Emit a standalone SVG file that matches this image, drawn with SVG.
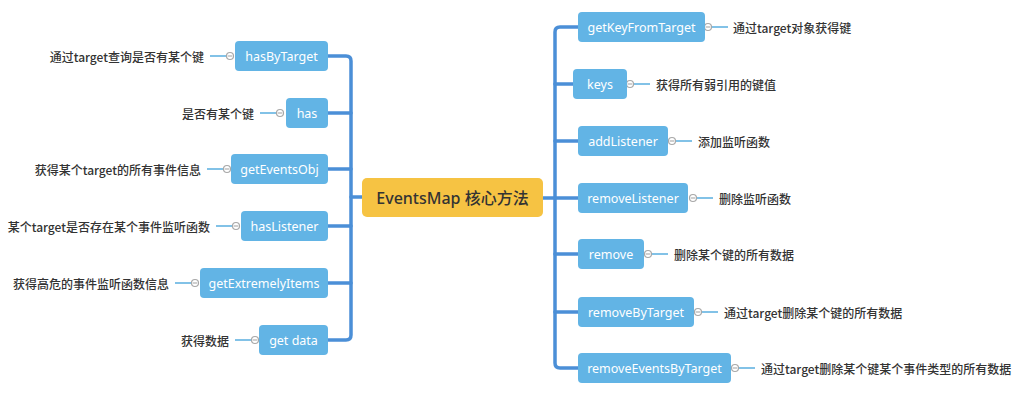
<svg xmlns="http://www.w3.org/2000/svg" width="1029" height="414" viewBox="0 0 1029 414">
<style>
.trunk{fill:none;stroke:#4b8fd7;stroke-width:3.5;stroke-linecap:round;stroke-linejoin:round}
.leafline{fill:none;stroke:#5aaee0;stroke-width:1.3}
.knob{fill:#fff;stroke:#a8a8a8;stroke-width:1.2}
.minus{stroke:#a8a8a8;stroke-width:1.1}
.node rect{fill:#62b4e5}
.node text{fill:#fff;font-family:"Noto Sans","Open Sans","Noto Sans CJK SC",sans-serif;font-size:12.5px;text-anchor:middle;dominant-baseline:central}
.label{fill:#333;font-family:"Noto Sans CJK SC","Noto Sans",sans-serif;font-size:12px;font-weight:500;dominant-baseline:central}
.l{text-anchor:end}
.r{text-anchor:start}
</style>
<defs>
<g id="knob"><circle class="knob" r="3.5"/><path class="minus" d="M-2.2,0 H2.2"/></g>
</defs>
<rect width="1029" height="414" fill="#fff"/>
<g id="connectors">
<path class="trunk" d="M328,56 H346 Q351,56 351,61 V335 Q351,340 346,340 H328"/>
<path class="trunk" d="M351,113 H328 M351,169 H328 M351,226 H328 M351,283 H328 M351,197 H362"/>
<path class="trunk" d="M578,27 H560 Q555,27 555,32 V363 Q555,368 560,368 H578"/>
<path class="trunk" d="M555,84 H573 M555,141 H578 M543,198 H578 M555,254 H578 M555,312 H578"/>
<path class="leafline" d="M210,56 H226.5 M260,113 H276.5 M207,169 H223.5 M216,226 H232.5 M175,283 H191.5 M235,340 H251.5"/>
<path class="leafline" d="M711.5,27 H728 M633.5,84 H650 M675.5,141 H692 M696.5,198 H713 M651.5,254 H668 M701.5,312 H718 M738.5,368 H755"/>
<g>
<use href="#knob" x="230" y="56"/><use href="#knob" x="280" y="113"/><use href="#knob" x="227" y="169"/><use href="#knob" x="236" y="226"/><use href="#knob" x="195" y="283"/><use href="#knob" x="255" y="340"/>
<use href="#knob" x="708" y="27"/><use href="#knob" x="630" y="84"/><use href="#knob" x="672" y="141"/><use href="#knob" x="693" y="198"/><use href="#knob" x="648" y="254"/><use href="#knob" x="698" y="312"/><use href="#knob" x="735" y="368"/>
</g>
</g>
<g id="center">
<rect x="362" y="178" width="181" height="39" rx="5" fill="#f6c343"/>
<text x="452.5" y="197.5" fill="#333" font-family="Noto Sans, Noto Sans CJK SC, sans-serif" font-size="16" font-weight="500" text-anchor="middle" dominant-baseline="central">EventsMap 核心方法</text>
</g>
<g id="hasByTarget" class="node"><rect x="235" y="41" width="93" height="30" rx="4"/><text x="281.5" y="56">hasByTarget</text></g>
<g id="has" class="node"><rect x="286" y="98" width="42" height="30" rx="4"/><text x="307" y="113">has</text></g>
<g id="getEventsObj" class="node"><rect x="231" y="154" width="97" height="30" rx="4"/><text x="279.5" y="169">getEventsObj</text></g>
<g id="hasListener" class="node"><rect x="241" y="211" width="87" height="30" rx="4"/><text x="284.5" y="226">hasListener</text></g>
<g id="getExtremelyItems" class="node"><rect x="200" y="268" width="128" height="30" rx="4"/><text x="264" y="283">getExtremelyItems</text></g>
<g id="getData" class="node"><rect x="259" y="325" width="69" height="30" rx="4"/><text x="293.5" y="340">get data</text></g>
<g id="getKeyFromTarget" class="node"><rect x="578" y="12" width="127" height="30" rx="4"/><text x="641.5" y="27">getKeyFromTarget</text></g>
<g id="keys" class="node"><rect x="573" y="69" width="54" height="30" rx="4"/><text x="600" y="84">keys</text></g>
<g id="addListener" class="node"><rect x="578" y="126" width="90" height="30" rx="4"/><text x="623" y="141">addListener</text></g>
<g id="removeListener" class="node"><rect x="578" y="183" width="110" height="30" rx="4"/><text x="633" y="198">removeListener</text></g>
<g id="remove" class="node"><rect x="578" y="239" width="66" height="30" rx="4"/><text x="611" y="254">remove</text></g>
<g id="removeByTarget" class="node"><rect x="578" y="297" width="116" height="30" rx="4"/><text x="636" y="312">removeByTarget</text></g>
<g id="removeEventsByTarget" class="node"><rect x="578" y="353" width="153" height="30" rx="4"/><text x="654.5" y="368">removeEventsByTarget</text></g>
<g id="labels">
<text class="label l" x="204" y="56">通过target查询是否有某个键</text>
<text class="label l" x="254" y="113">是否有某个键</text>
<text class="label l" x="201" y="169">获得某个target的所有事件信息</text>
<text class="label l" x="210" y="226">某个target是否存在某个事件监听函数</text>
<text class="label l" x="169" y="283">获得高危的事件监听函数信息</text>
<text class="label l" x="229" y="340">获得数据</text>
<text class="label r" x="733" y="27">通过target对象获得键</text>
<text class="label r" x="656" y="84">获得所有弱引用的键值</text>
<text class="label r" x="698" y="141">添加监听函数</text>
<text class="label r" x="719" y="198">删除监听函数</text>
<text class="label r" x="674" y="254">删除某个键的所有数据</text>
<text class="label r" x="724" y="312">通过target删除某个键的所有数据</text>
<text class="label r" x="761" y="368">通过target删除某个键某个事件类型的所有数据</text>
</g>
</svg>
